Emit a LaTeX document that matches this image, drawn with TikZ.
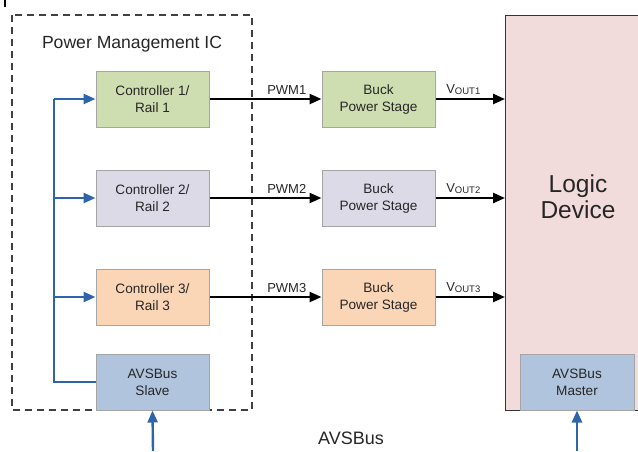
\documentclass[tikz,border=0pt]{standalone}
\usepackage{fontspec}
\setmainfont{Liberation Sans}
\usetikzlibrary{arrows.meta}
\definecolor{cgreen}{RGB}{207,222,177}
\definecolor{clav}{RGB}{221,218,232}
\definecolor{cpeach}{RGB}{250,214,182}
\definecolor{cblue}{RGB}{177,196,222}
\definecolor{cpink}{RGB}{242,220,219}
\definecolor{cline}{RGB}{46,100,170}
\definecolor{cborder}{RGB}{165,165,165}
\newcommand{\vout}[1]{V\raisebox{-0.5pt}{\fontsize{9.5}{10}\selectfont OUT#1}}
\begin{document}
\begin{tikzpicture}[x=1pt,y=-1pt,
  blk/.style={draw=cborder,line width=1pt,minimum width=113pt,minimum height=56pt,inner sep=0pt,align=center,font=\fontsize{13.6}{17}\selectfont,text=black!85},
  sig/.style={line width=2.4pt,-{Triangle[length=12pt,width=10pt]}},
  bus/.style={line width=2.4pt,draw=cline,-{Triangle[length=12pt,width=10pt]},cline},
  lbl/.style={font=\fontsize{13}{15}\selectfont,text=black!85,anchor=south}]
\useasboundingbox (0,0) rectangle (638,451);
\begin{scope}
\clip (0,0) rectangle (638,451);
\node[draw=black!80,fill=cpink,line width=1.2pt,minimum width=140pt,minimum height=395pt,inner sep=0pt,anchor=north west] (ld) at (505,15) {};
\end{scope}
\node[font=\fontsize{24.5}{26}\selectfont,align=center,text=black!85] (ldt) at (578,197) {Logic\\Device};
\draw[dash pattern=on 7pt off 5pt,line width=1.6pt,black!75] (12,15) rectangle (252,410);
\node[font=\fontsize{17.6}{20}\selectfont,text=black!85] (pmic) at (132,44) {Power Management IC};
\draw[line width=1.4pt] (5,0) -- (5,7);
\node[blk,fill=cgreen] (c1) at (152.5,99) {Controller 1/\\Rail 1};
\node[blk,fill=clav] (c2) at (152.5,198) {Controller 2/\\Rail 2};
\node[blk,fill=cpeach] (c3) at (152.5,297) {Controller 3/\\Rail 3};
\node[blk,fill=cblue] (sl) at (152.5,382) {AVSBus\\Slave};
\node[blk,fill=cgreen] (b1) at (378.5,99) {Buck\\Power Stage};
\node[blk,fill=clav] (b2) at (378.5,198) {Buck\\Power Stage};
\node[blk,fill=cpeach] (b3) at (378.5,297) {Buck\\Power Stage};
\node[blk,fill=cblue,minimum width=114pt] (ma) at (577,382) {AVSBus\\Master};
\draw[sig] (c1) -- node[lbl,above,pos=0.69] {PWM1} (b1);
\draw[sig] (c2) -- node[lbl,above,pos=0.69] {PWM2} (b2);
\draw[sig] (c3) -- node[lbl,above,pos=0.69] {PWM3} (b3);
\coordinate (e1) at (505,99);
\coordinate (e2) at (505,198);
\coordinate (e3) at (505,297);
\draw[sig] (b1) -- node[lbl,above,pos=0.4] {\vout{1}} (e1);
\draw[sig] (b2) -- node[lbl,above,pos=0.4] {\vout{2}} (e2);
\draw[sig] (b3) -- node[lbl,above,pos=0.4] {\vout{3}} (e3);
\coordinate (j0) at (54,382);
\coordinate (j1) at (54,99);
\coordinate (j2) at (54,198);
\coordinate (j3) at (54,297);
\draw[line width=2.4pt,cline] (sl.west) -- (j0) -- (j1);
\draw[bus] (j1) -- (c1.west);
\draw[bus] (j2) -- (c2.west);
\draw[bus] (j3) -- (c3.west);
\coordinate (s1) at (153,451);
\coordinate (s2) at (577,451);
\draw[bus] (s1) -- (sl.south);
\draw[bus] (s2) -- (ma.south);
\node[font=\fontsize{18}{20}\selectfont,text=black!85] (avs) at (351,438) {AVSBus};
\end{tikzpicture}
\end{document}
